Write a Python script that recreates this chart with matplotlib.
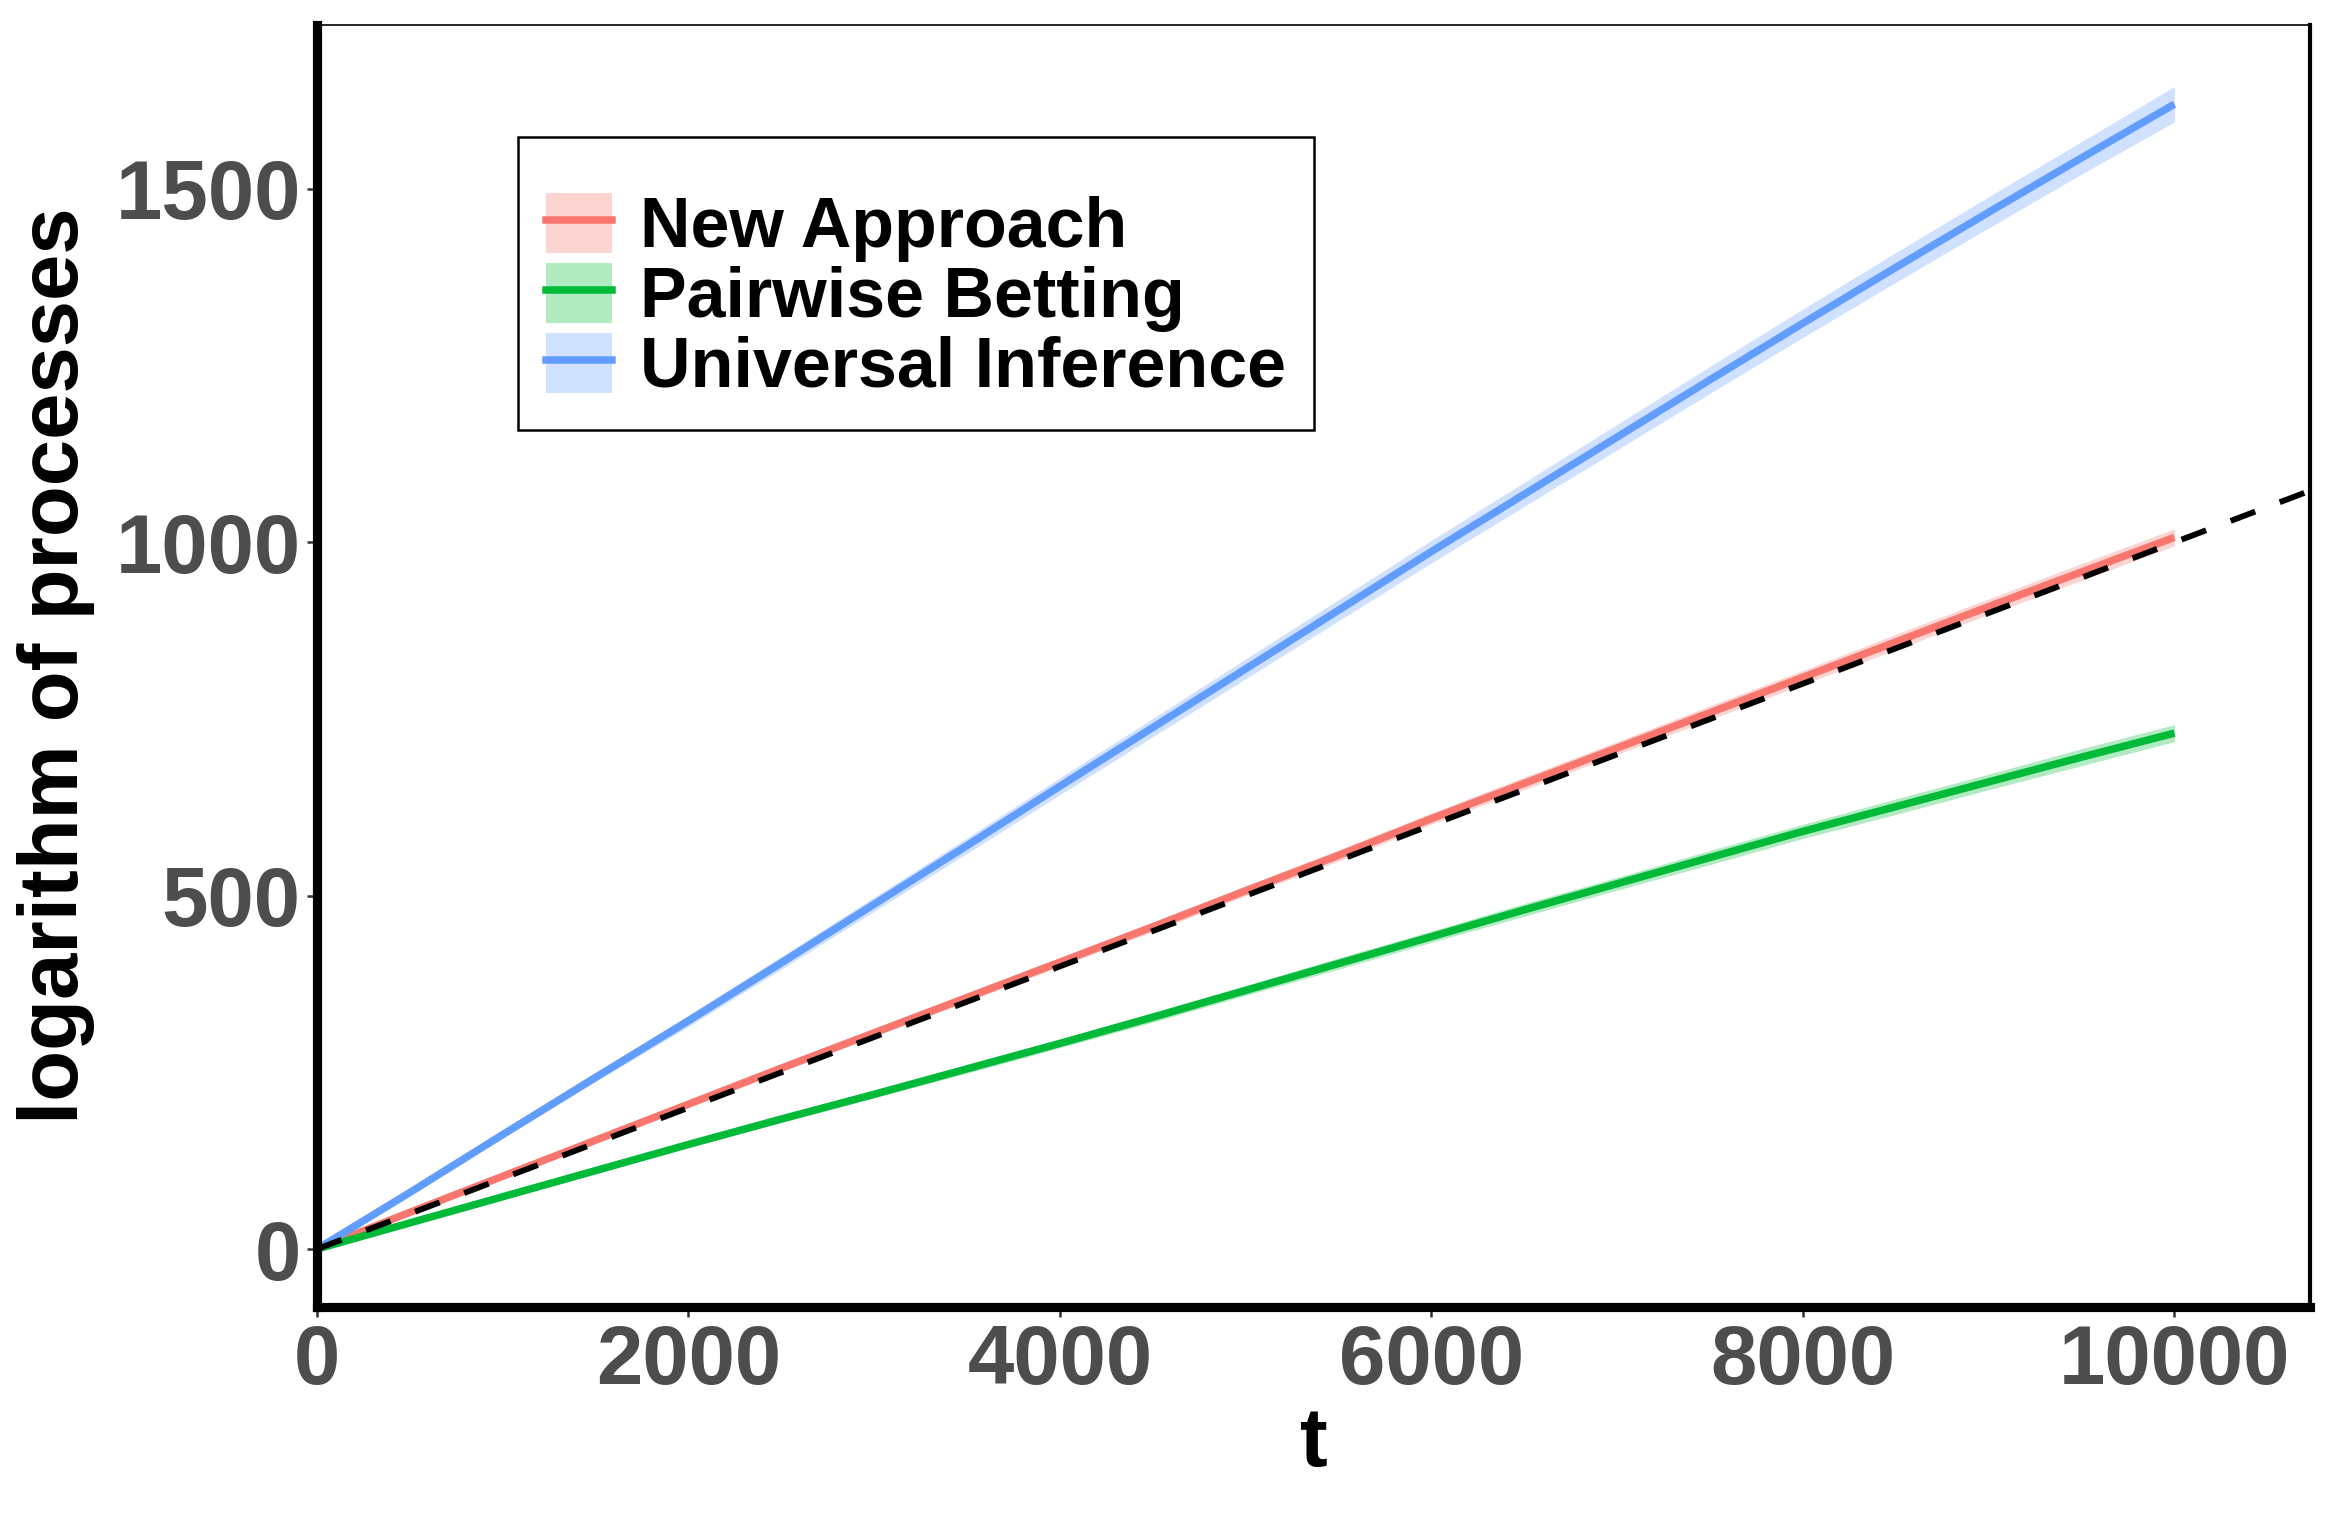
import numpy as np
import matplotlib
matplotlib.use("Agg")
import matplotlib.pyplot as plt
from matplotlib.patches import Patch
from matplotlib.lines import Line2D

plt.rcParams['font.family'] = ['Liberation Sans', 'DejaVu Sans']
plt.rcParams['font.weight'] = 'bold'

# time grid (every 500 steps)
t = np.arange(0, 10001, 500)

# mean log-processes
new_approach = [0, 52, 103, 154, 205, 256, 306, 356, 406, 456, 507,
                557, 609, 659, 709, 759, 809, 859, 909, 958, 1007]
pairwise = [0, 37, 74, 111, 148, 184, 219, 255, 291, 328, 366,
            404, 442, 480, 517, 554, 591, 626, 661, 696, 730]
universal = [0, 80, 162, 243, 323, 405, 488, 571, 655, 738, 821,
             904, 987, 1068, 1149, 1230, 1310, 1389, 1467, 1544, 1620]

# half width of the shaded bands
new_approach_band = [0, 2, 3, 3, 4, 5, 5, 6, 6, 7, 7, 8, 8, 9, 9, 10, 10, 11, 11, 12, 12]
pairwise_band = [0, 2, 3, 3, 4, 5, 5, 6, 6, 7, 7, 8, 8, 9, 9, 10, 10, 11, 11, 12, 12]
universal_band = [0, 3, 5, 6, 8, 9, 10, 11, 12, 13, 14, 15, 16, 17, 18, 19, 20, 21, 22, 23, 25]

ref_slope = 0.1  # dashed reference line

labels = ['New Approach', 'Pairwise Betting', 'Universal Inference']
colors = ['#F8766D', '#00BA38', '#619CFF']
means = [new_approach, pairwise, universal]
bands = [new_approach_band, pairwise_band, universal_band]

fig = plt.figure(figsize=(2337 / 300, 1520 / 300), dpi=300)
ax = fig.add_axes([317 / 2337, 1 - 1307 / 1520, (2310 - 317) / 2337, (1307 - 25) / 1520])

for m, b, c in zip(means, bands, colors):
    m = np.array(m, dtype=float)
    b = np.array(b, dtype=float)
    ax.fill_between(t, m - b, m + b, color=c, alpha=0.3, lw=0)
    ax.plot(t, m, color=c, lw=1.8, solid_capstyle='butt')

ax.axline((0, 0), slope=ref_slope, color='black', lw=1.4, ls=(0, (4.5, 4.5)))

ax.set_xlim(0, 10730)
ax.set_ylim(-82, 1732)
ax.set_xticks([0, 2000, 4000, 6000, 8000, 10000])
ax.set_yticks([0, 500, 1000, 1500])

ax.tick_params(axis='both', labelsize=20, labelcolor='#4D4D4D', color='#333333',
               length=2.4, width=0.6)
ax.tick_params(axis='y', pad=1.5)
ax.tick_params(axis='x', pad=1.5)
for lab in ax.get_xticklabels() + ax.get_yticklabels():
    lab.set_fontweight('bold')

ax.set_xlabel('t', fontsize=20, fontweight='bold', labelpad=1)
ax.set_ylabel('logarithm of processes', fontsize=20, fontweight='bold', labelpad=5)

ax.spines['left'].set_linewidth(2.2)
ax.spines['bottom'].set_linewidth(2.2)
ax.spines['right'].set_linewidth(1.0)
ax.spines['top'].set_linewidth(0.4)

handles = [(Patch(facecolor=c, alpha=0.3, lw=0), Line2D([], [], color=c, lw=1.8))
           for c in colors]
leg = ax.legend(handles, labels, loc='upper left', bbox_to_anchor=(0.1009, 0.913),
                prop={'weight': 'bold', 'size': 16.8},
                title=' ', title_fontsize=7,
                handlelength=0.94, handleheight=0.94, handletextpad=0.4,
                labelspacing=0.01, borderpad=0.4, borderaxespad=0,
                frameon=True, fancybox=False, edgecolor='black', framealpha=1)
leg.get_frame().set_linewidth(0.6)

fig.savefig('out.png', dpi=300)
